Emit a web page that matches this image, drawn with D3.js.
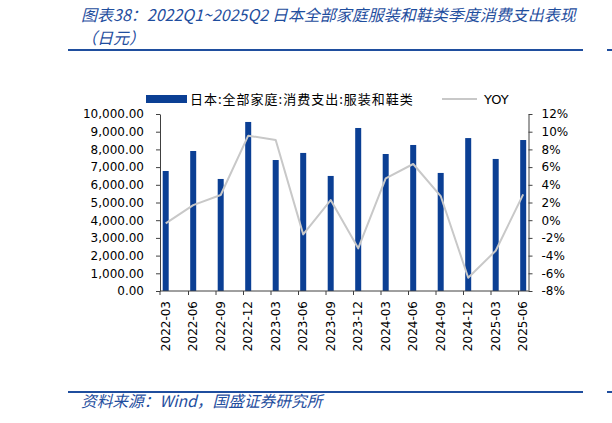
<!DOCTYPE html>
<html>
<head>
<meta charset="utf-8">
<script src="https://cdn.jsdelivr.net/npm/d3@7"></script>
<style>
  body { margin: 0; background: #fff; }
  svg { display: block; }
</style>
</head>
<body>
<div id="chart"></div>
<script>
// data
const categories = ['2022-03', '2022-06', '2022-09', '2022-12', '2023-03', '2023-06', '2023-09',
                    '2023-12', '2024-03', '2024-06', '2024-09', '2024-12', '2025-03', '2025-06'];
const spending = [6780, 7910, 6330, 9550, 7400, 7800, 6500, 9210, 7740, 8250, 6670, 8640, 7460, 8530];
const yoy = [-0.35, 1.7, 2.85, 9.55, 9.06, -1.6, 2.28, -3.18, 4.73, 6.35, 2.73, -6.5, -3.45, 2.92];
const leftTicks = [0, 1000, 2000, 3000, 4000, 5000, 6000, 7000, 8000, 9000, 10000];
const rightTicks = [-8, -6, -4, -2, 0, 2, 4, 6, 8, 10, 12];

const W = 612, H = 423;
const blue = '#0b3f94', titleBlue = '#1f4e9e', grey = '#c8c8c8';
const axisFont = '"DejaVu Sans", Verdana, sans-serif';
const cjkFont = '"Noto Sans CJK SC", sans-serif';

const svg = d3.select('#chart').append('svg').attr('width', W).attr('height', H);

// title and rules
svg.append('text').attr('x', 81).attr('y', 20.5)
  .attr('font-family', cjkFont).attr('font-size', 16).attr('font-style', 'italic')
  .attr('fill', titleBlue).text('图表38：2022Q1~2025Q2 日本全部家庭服装和鞋类季度消费支出表现');
svg.append('text').attr('x', 81).attr('y', 43.5)
  .attr('font-family', cjkFont).attr('font-size', 16).attr('font-style', 'italic')
  .attr('fill', titleBlue).text('（日元）');

[50, 392].forEach(y => {
  svg.append('line').attr('x1', 68).attr('x2', 583).attr('y1', y).attr('y2', y)
    .attr('stroke', titleBlue).attr('stroke-width', 2);
  svg.append('line').attr('x1', 607).attr('x2', 612).attr('y1', y).attr('y2', y)
    .attr('stroke', titleBlue).attr('stroke-width', 2);
});

svg.append('text').attr('x', 81).attr('y', 407)
  .attr('font-family', cjkFont).attr('font-size', 15.7).attr('font-style', 'italic')
  .attr('fill', titleBlue).text('资料来源：Wind，国盛证券研究所');

// scales
const plotLeft = 160, plotRight = 528.5, plotTop = 114, plotBottom = 291;
const step = 27.5;
const x = d3.scaleBand().domain(categories).range([plotLeft, plotLeft + step * categories.length]);
const yL = d3.scaleLinear().domain([0, 10000]).range([plotBottom, plotTop]);
const yR = d3.scaleLinear().domain([-8, 12]).range([plotBottom, plotTop]);
const cx = c => x(c) + 5.7;

// bars
svg.append('g').selectAll('rect').data(categories).join('rect')
  .attr('x', c => x(c) + 2.7)
  .attr('width', 6)
  .attr('y', (c, i) => yL(spending[i]))
  .attr('height', (c, i) => plotBottom - yL(spending[i]))
  .attr('fill', blue);

// yoy line
const line = d3.line().x((d, i) => cx(categories[i])).y(d => yR(d));
svg.append('path').datum(yoy)
  .attr('fill', 'none').attr('stroke', grey).attr('stroke-width', 2)
  .attr('stroke-linejoin', 'round').attr('d', line);

// axes
const axisColor = '#404040';
const gL = svg.append('g').attr('transform', `translate(${plotLeft},0)`)
  .call(d3.axisLeft(yL).tickValues(leftTicks).tickFormat(d3.format(',.2f')).tickSize(4).tickSizeOuter(0).tickPadding(12));
const gR = svg.append('g').attr('transform', `translate(${plotRight},0)`)
  .call(d3.axisRight(yR).tickValues(rightTicks).tickFormat(d => d + '%').tickSize(4).tickSizeOuter(0).tickPadding(9));
[gL, gR].forEach(g => {
  g.attr('font-family', axisFont).attr('font-size', 12);
  g.selectAll('path, line').attr('stroke', axisColor);
  g.selectAll('text').attr('fill', '#000');
});

// category axis
svg.append('line').attr('x1', plotLeft).attr('x2', plotRight).attr('y1', plotBottom).attr('y2', plotBottom)
  .attr('stroke', axisColor);
svg.append('g').selectAll('line').data(categories).join('line')
  .attr('x1', (c, i) => x(c) + (i ? 1 : 0)).attr('x2', (c, i) => x(c) + (i ? 1 : 0))
  .attr('y1', plotBottom).attr('y2', plotBottom + 4).attr('stroke', axisColor);
svg.append('g').selectAll('text').data(categories).join('text')
  .attr('transform', c => `translate(${cx(c)},${plotBottom + 10}) rotate(-90)`)
  .attr('text-anchor', 'end').attr('dy', '0.35em')
  .attr('font-family', axisFont).attr('font-size', 12).attr('fill', '#000')
  .text(c => c);

// legend
svg.append('rect').attr('x', 146).attr('y', 95).attr('width', 41).attr('height', 8).attr('fill', blue);
svg.append('text').attr('x', 190).attr('y', 103.5)
  .attr('font-family', cjkFont).attr('font-size', 13).attr('letter-spacing', 1).attr('fill', '#000')
  .text('日本:全部家庭:消费支出:服装和鞋类');
svg.append('line').attr('x1', 442).attr('x2', 477).attr('y1', 99).attr('y2', 99)
  .attr('stroke', grey).attr('stroke-width', 2);
svg.append('text').attr('x', 484).attr('y', 104)
  .attr('font-family', axisFont).attr('font-size', 13).attr('fill', '#000').text('YOY');
</script>
</body>
</html>
